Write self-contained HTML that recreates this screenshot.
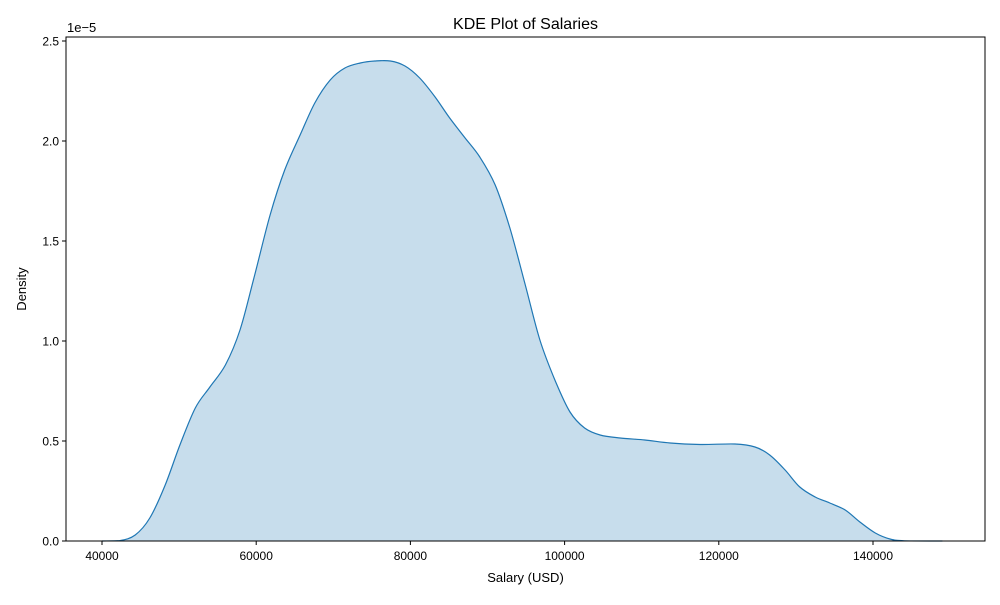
<!DOCTYPE html>
<html><head><meta charset="utf-8"><style>
body{margin:0;background:#fff}
svg text{font-family:"Liberation Sans","DejaVu Sans",sans-serif;fill:#000}
</style></head><body>
<svg id="chart" width="1000" height="600" xmlns="http://www.w3.org/2000/svg">
<rect width="1000" height="600" fill="#fff"/>
<g id="plot"></g>
<text x="525.5" y="29" font-size="16" text-anchor="middle">KDE Plot of Salaries</text>
<text x="525.5" y="582" font-size="13" text-anchor="middle">Salary (USD)</text>
<text x="26" y="289" font-size="13" text-anchor="middle" transform="rotate(-90 26 289)">Density</text>
<text x="67" y="32" font-size="13">1e−5</text>
</svg>
<script>
const salaries=[40000,42300,44300,46200,48200,50100,52100,54000,56000,57900,59800,61800,63700,65700,67600,69600,71500,73500,75400,77400,79300,81200,83200,85100,87100,89000,91000,92900,94900,96800,98800,100700,102600,104600,107200,110400,113700,117600,122100,124700,126600,128600,130500,132500,134400,136400,138300,140300,142200,144100,149000];
const densities=[0,0.002,0.03,0.115,0.28,0.48,0.665,0.77,0.88,1.055,1.33,1.63,1.855,2.03,2.19,2.305,2.365,2.39,2.40,2.40,2.375,2.315,2.22,2.115,2.015,1.92,1.78,1.565,1.28,1.005,0.8,0.645,0.565,0.53,0.515,0.505,0.49,0.4825,0.485,0.47,0.43,0.355,0.27,0.22,0.19,0.155,0.095,0.04,0.01,0.001,0];
const xTicks=[40000,60000,80000,100000,120000,140000];
const yTicks=[0,0.5,1.0,1.5,2.0,2.5];
const L=66,R=985,T=37,B=541;
const xs=v=>102+(v-40000)*7.71/1000;
const ys=v=>B-v*200;
const g=document.getElementById('plot');
const NS='http://www.w3.org/2000/svg';
function mk(t,a){const e=document.createElementNS(NS,t);for(const k in a)e.setAttribute(k,a[k]);g.appendChild(e);return e;}
let pts=salaries.map((s,i)=>[xs(s),ys(densities[i])]);
function smooth(p){let d='M'+p[0][0].toFixed(1)+','+p[0][1].toFixed(1);
 for(let i=0;i<p.length-1;i++){const p0=p[Math.max(0,i-1)],p1=p[i],p2=p[i+1],p3=p[Math.min(p.length-1,i+2)];
  const c1=[p1[0]+(p2[0]-p0[0])/6,p1[1]+(p2[1]-p0[1])/6],c2=[p2[0]-(p3[0]-p1[0])/6,p2[1]-(p3[1]-p1[1])/6];
  d+=`C${c1[0].toFixed(1)},${Math.min(B,c1[1]).toFixed(1)} ${c2[0].toFixed(1)},${Math.min(B,c2[1]).toFixed(1)} ${p2[0].toFixed(1)},${p2[1].toFixed(1)}`;}
 return d;}
let line=smooth(pts);
const area=mk('path',{d:line+`L${pts[pts.length-1][0]},${B}L${pts[0][0]},${B}Z`,fill:'#1f77b4','fill-opacity':'0.25',stroke:'none'});


const ln=mk('path',{d:line,fill:'none',stroke:'#1f77b4','stroke-width':'1.2'});


const frame=mk('rect',{x:L,y:T,width:R-L,height:B-T,fill:'none',stroke:'#000','stroke-width':'1'});


xTicks.forEach(v=>{const x=xs(v);
 const t=mk('line',{x1:x,x2:x,y1:B,y2:B+4,stroke:'#000'});
 
 
 const l=mk('text',{x:x,y:B+19,'font-size':'12','text-anchor':'middle'});l.textContent=v;
 
 
});
yTicks.forEach(v=>{const y=ys(v);
 const t=mk('line',{x1:L-4,x2:L,y1:y,y2:y,stroke:'#000'});
 
 
 const l=mk('text',{x:L-7,y:y+4.5,'font-size':'12','text-anchor':'end'});l.textContent=v.toFixed(1);
 
 
});
</script>
</body></html>
